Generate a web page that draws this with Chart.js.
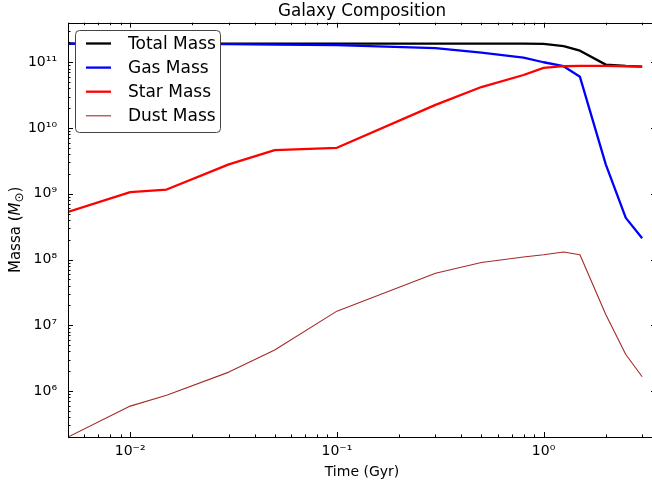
<!DOCTYPE html>
<html>
<head>
<meta charset="utf-8">
<script src="https://cdn.jsdelivr.net/npm/chart.js@4.4.1/dist/chart.umd.min.js"></script>
<style>
  html, body { margin: 0; padding: 0; background: #fff; overflow: hidden; }
</style>
</head>
<body>
<canvas id="c" width="656" height="488"></canvas>
<script>
const times = [0.005, 0.01, 0.015, 0.03, 0.05, 0.1, 0.3, 0.5, 0.8, 1.0, 1.25, 1.5, 2.0, 2.5, 3.0]
const totalMass = [1.92e11, 1.92e11, 1.92e11, 1.92e11, 1.92e11, 1.92e11, 1.92e11, 1.92e11, 1.92e11, 1.9e11, 1.76e11, 1.5e11, 9.2e10, 8.8e10, 8.6e10]
const gasMass = [1.92e11, 1.91e11, 1.9e11, 1.88e11, 1.86e11, 1.82e11, 1.64e11, 1.4e11, 1.18e11, 1.0e11, 8.7e10, 6.0e10, 2.8e9, 4.3e8, 2.1e8]
const starMass = [5.3e8, 1.06e9, 1.16e9, 2.8e9, 4.6e9, 5.0e9, 2.25e10, 4.2e10, 6.4e10, 8.2e10, 8.7e10, 8.8e10, 8.8e10, 8.7e10, 8.6e10]
const dustMass = [2.0e5, 5.9e5, 8.6e5, 1.94e6, 4.2e6, 1.64e7, 6.2e7, 9.0e7, 1.09e8, 1.18e8, 1.3e8, 1.18e8, 1.46e7, 3.6e6, 1.65e6]

const xTicks = [0.01, 0.1, 1]
const yTicks = [1e6, 1e7, 1e8, 1e9, 1e10, 1e11]

const FONT = 'DejaVu Sans'

const sup = { '-': '⁻', '0': '⁰', '1': '¹', '2': '²', '3': '³', '4': '⁴', '5': '⁵', '6': '⁶', '7': '⁷', '8': '⁸', '9': '⁹' }
function powLabel (v) {
  const e = Math.round(Math.log10(v))
  return '10' + String(e).split('').map(c => sup[c]).join('')
}

function pts (ys) {
  return times.map((t, i) => ({ x: t, y: ys[i] }))
}

// every 1..9 x 10^k value inside [min, max]
function logTicks (min, max) {
  const out = []
  for (let k = Math.floor(Math.log10(min)); k <= Math.ceil(Math.log10(max)); k++) {
    for (let m = 1; m < 10; m++) {
      const v = m * Math.pow(10, k)
      if (v >= min && v <= max) out.push({ v, major: m === 1 })
    }
  }
  return out
}

// matplotlib style box: frame on four sides, ticks pointing inward
const frameTicks = {
  id: 'frameTicks',
  afterDatasetsDraw (chart) {
    const { ctx, chartArea: a, scales: { x, y } } = chart
    ctx.save()
    ctx.strokeStyle = '#000'
    ctx.lineWidth = 1
    ctx.beginPath()
    for (const t of logTicks(x.min, x.max)) {
      const px = Math.round(x.getPixelForValue(t.v)) + 0.5
      const len = t.major ? 5 : 2.5
      ctx.moveTo(px, a.bottom); ctx.lineTo(px, a.bottom - len)
      ctx.moveTo(px, a.top); ctx.lineTo(px, a.top + len)
    }
    for (const t of logTicks(y.min, y.max)) {
      const py = Math.round(y.getPixelForValue(t.v)) + 0.5
      const len = t.major ? 5 : 2.5
      ctx.moveTo(a.left, py); ctx.lineTo(a.left + len, py)
      ctx.moveTo(a.right, py); ctx.lineTo(a.right - len, py)
    }
    ctx.stroke()
    ctx.strokeRect(Math.round(a.left) + 0.5, Math.round(a.top) + 0.5, Math.round(a.right - a.left), Math.round(a.bottom - a.top))
    ctx.restore()
  }
}

// legend in the upper left corner, inside the axes
const boxLegend = {
  id: 'boxLegend',
  afterDraw (chart) {
    const { ctx } = chart
    ctx.save()
    ctx.fillStyle = '#fff'
    ctx.strokeStyle = '#444'
    ctx.lineWidth = 1
    ctx.beginPath()
    ctx.roundRect(75.5, 30.5, 145, 102, 4)
    ctx.fill()
    ctx.stroke()
    ctx.font = '17px "' + FONT + '"'
    ctx.textBaseline = 'middle'
    ctx.textAlign = 'left'
    chart.data.datasets.forEach((ds, i) => {
      const yy = 43.5 + i * 24.1
      ctx.strokeStyle = ds.borderColor
      ctx.lineWidth = ds.borderWidth
      ctx.beginPath()
      ctx.moveTo(86, yy)
      ctx.lineTo(111, yy)
      ctx.stroke()
      ctx.fillStyle = '#000'
      ctx.fillText(ds.label, 128, yy + 1)
    })
    ctx.restore()
  }
}

// y label with italic M and subscript sun symbol
const massLabel = {
  id: 'massLabel',
  afterDraw (chart) {
    const { ctx, chartArea: a } = chart
    const parts = [
      { t: 'Massa (', f: '15px "' + FONT + '"', dy: 0 },
      { t: 'M', f: 'italic 15px "' + FONT + '"', dy: 0 },
      { t: '⊙', f: '12px "' + FONT + '"', dy: 3 },
      { t: ')', f: '15px "' + FONT + '"', dy: 0 }
    ]
    ctx.save()
    let w = 0
    for (const p of parts) { ctx.font = p.f; w += ctx.measureText(p.t).width }
    ctx.translate(20, (a.top + a.bottom) / 2)
    ctx.rotate(-Math.PI / 2)
    ctx.fillStyle = '#000'
    ctx.textBaseline = 'alphabetic'
    let cx = -w / 2
    for (const p of parts) {
      ctx.font = p.f
      ctx.fillText(p.t, cx, p.dy)
      cx += ctx.measureText(p.t).width
    }
    ctx.restore()
  }
}

new Chart(document.getElementById('c'), {
  type: 'line',
  data: {
    datasets: [
      { label: 'Total Mass', data: pts(totalMass), borderColor: '#000000', borderWidth: 2.3, order: 3 },
      { label: 'Gas Mass', data: pts(gasMass), borderColor: '#0000ff', borderWidth: 2.3, order: 2 },
      { label: 'Star Mass', data: pts(starMass), borderColor: '#ff0000', borderWidth: 2.3, order: 1 },
      { label: 'Dust Mass', data: pts(dustMass), borderColor: '#a52a2a', borderWidth: 1.1, order: 0 }
    ]
  },
  options: {
    responsive: false,
    animation: false,
    events: [],
    elements: {
      point: { radius: 0 },
      line: { tension: 0, borderCapStyle: 'butt', borderJoinStyle: 'round', fill: false }
    },
    layout: { padding: 0 },
    plugins: {
      legend: { display: false },
      tooltip: { enabled: false },
      title: {
        display: true,
        text: 'Galaxy Composition',
        fullSize: false,
        color: '#000',
        font: { family: FONT, size: 16.8, weight: 'normal' },
        padding: { top: 1.5, bottom: 1 }
      }
    },
    scales: {
      x: {
        type: 'logarithmic',
        min: 0.005,
        max: 3.5,
        grid: { display: false, drawTicks: false },
        border: { display: false },
        ticks: {
          color: '#000',
          font: { family: FONT, size: 14 },
          padding: 6,
          maxRotation: 0,
          autoSkip: false,
          callback: v => powLabel(v)
        },
        afterBuildTicks: s => { s.ticks = xTicks.map(v => ({ value: v })) },
        afterFit: s => { s.height = 51 },
        title: {
          display: true,
          text: 'Time (Gyr)',
          color: '#000',
          font: { family: FONT, size: 14 },
          padding: { top: 0, bottom: 7 }
        }
      },
      y: {
        type: 'logarithmic',
        min: 2e5,
        max: 4e11,
        grid: { display: false, drawTicks: false },
        border: { display: false },
        ticks: {
          color: '#000',
          font: { family: FONT, size: 14 },
          padding: 11,
          autoSkip: false,
          callback: v => powLabel(v)
        },
        afterBuildTicks: s => { s.ticks = yTicks.map(v => ({ value: v })) },
        afterFit: s => { s.width = 68 }
      }
    }
  },
  plugins: [frameTicks, boxLegend, massLabel]
})
</script>
</body>
</html>
